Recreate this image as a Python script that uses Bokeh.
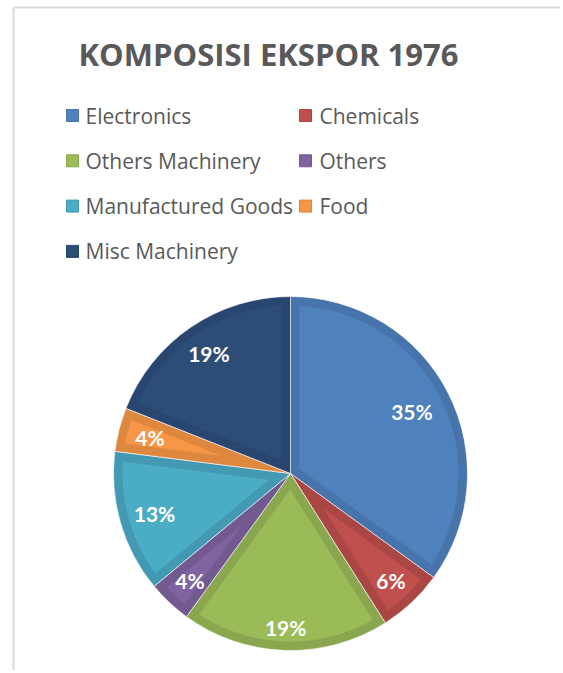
import numpy as np
from bokeh.plotting import figure
from bokeh.models import Range1d
from bokeh.core.properties import value
from bokeh.embed import file_html
from bokeh.resources import INLINE

# ---- data ----
title_text = "KOMPOSISI EKSPOR 1976"
categories = ["Electronics", "Chemicals", "Others Machinery", "Others",
              "Manufactured Goods", "Food", "Misc Machinery"]
shares = [35, 6, 19, 4, 13, 4, 19]

# ---- style ----
fill_colors = ["#4F81BD", "#C0504D", "#9BBB59", "#8064A2", "#4BACC6", "#F79646", "#2C4D75"]
band_colors = ["#4674AB", "#AA4644", "#8AA74F", "#725A91", "#4399B1", "#DD873F", "#284670"]
label_rfrac = [0.77, 0.83, 0.87, 0.83, 0.80, 0.82, 0.82]

W, H = 560, 670
p = figure(width=W, height=H, x_range=Range1d(0, W), y_range=Range1d(0, H),
           output_backend="svg", toolbar_location=None, min_border=0)
p.axis.visible = False
p.grid.visible = False
p.outline_line_color = None
p.background_fill_color = "white"
p.border_fill_color = "white"


def px(X):
    return X


def py(Y):
    return H - Y


# frame lines (cropped chart border)
p.segment(x0=[px(13), px(13)], y0=[py(7), py(7)], x1=[W, px(13)], y1=[py(7), 0],
          line_color="#d9d9d9", line_width=2)

# title
p.text(x=[px(268)], y=[py(53)], text=[title_text], text_align="center",
       text_baseline="middle", text_font=value("Open Sans"), text_font_style="bold",
       text_font_size="31px", text_color="#595959")

# legend
for i, cat in enumerate(categories):
    row, col = divmod(i, 2)
    sx = [72, 305][col]
    tx = [85, 319][col]
    yy = 115 + 45.3 * row
    p.rect(x=[px(sx)], y=[py(yy)], width=12, height=12, fill_color=fill_colors[i],
           line_color=band_colors[i], line_width=1)
    p.text(x=[px(tx)], y=[py(yy)], text=[cat], text_align="left", text_baseline="middle",
           text_font=value("Open Sans"), text_font_size="21px", text_color="#595959")

# pie
cx, cy, r, d = px(290), py(473), 177.0, 9.0
vals = np.array(shares, dtype=float)
frac = vals / vals.sum()
cum = np.concatenate([[0], np.cumsum(frac)[:-1]])
a0 = np.pi / 2 - 2 * np.pi * cum
a1 = a0 - 2 * np.pi * frac

p.wedge(x=cx, y=cy, radius=r, start_angle=a1, end_angle=a0, direction="anticlock",
        fill_color=band_colors, line_color="white", line_alpha=0.6, line_width=1)

xs, ys = [], []
for s, e in zip(a1, a0):
    th = e - s
    m = (s + e) / 2
    ad = d / np.sin(th / 2)
    rp = r - d
    phi = np.arcsin(d / rp)
    arc = np.linspace(s + phi, e - phi, 80)
    xs.append(list(np.concatenate([[cx + ad * np.cos(m)], cx + rp * np.cos(arc)])))
    ys.append(list(np.concatenate([[cy + ad * np.sin(m)], cy + rp * np.sin(arc)])))
p.patches(xs=xs, ys=ys, fill_color=fill_colors, line_color=None)

mid = (a0 + a1) / 2
lr = np.array(label_rfrac) * r
labels = [f"{v:.0f}%" for v in np.round(frac * 100)]
p.text(x=cx + lr * np.cos(mid), y=cy + lr * np.sin(mid), text=labels,
       text_align="center", text_baseline="middle", text_font=value("Lato"),
       text_font_style="bold", text_font_size="21px", text_color="white")

open("out.html", "w").write(file_html(p, INLINE))
